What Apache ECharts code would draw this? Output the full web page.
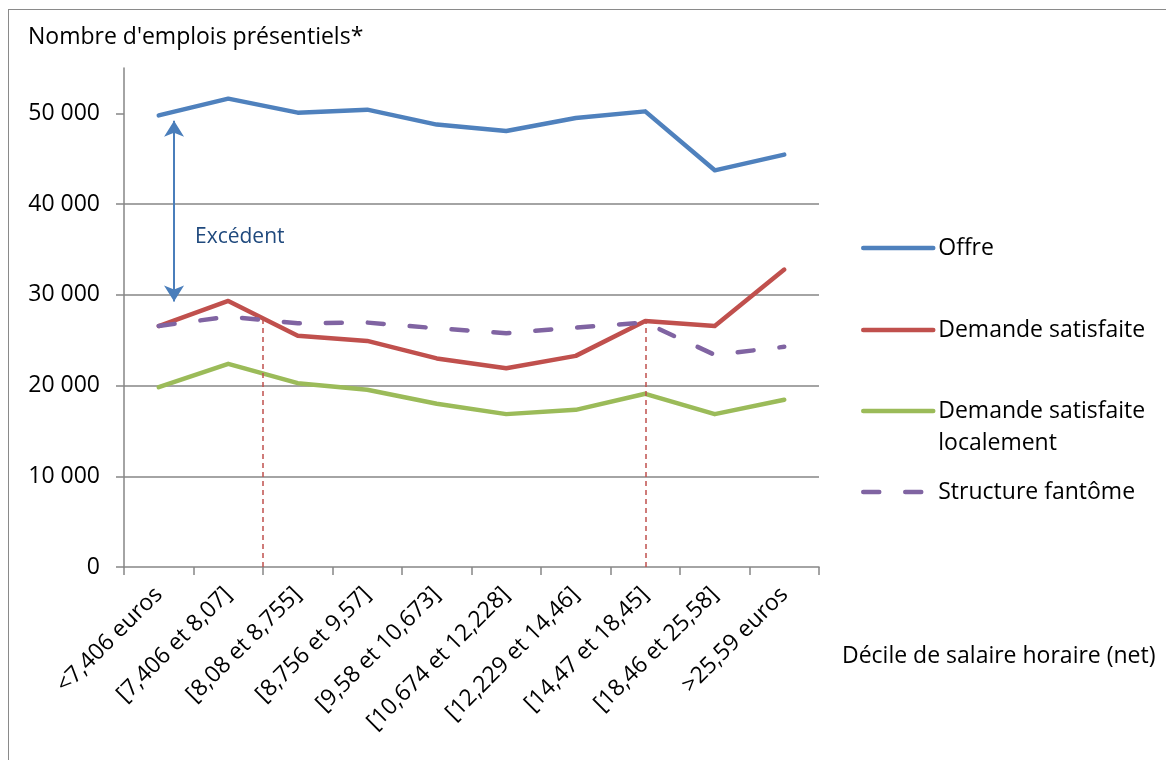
<!DOCTYPE html>
<html><head><meta charset="utf-8">
<script src="https://cdn.jsdelivr.net/npm/echarts@6/dist/echarts.min.js"></script>
<style>
html,body{margin:0;padding:0;background:#fff;}
body{width:1166px;height:760px;overflow:hidden;position:relative}
#frame{position:absolute;left:8px;top:9px;width:1200px;height:800px;border:1px solid #8a8a8a;box-sizing:border-box}
#chart{position:absolute;left:0;top:0;width:1166px;height:760px;}
</style></head><body>
<div id="frame"></div>
<div id="chart"></div>
<script>
const categories = ['<7,406 euros','[7,406 et 8,07]','[8,08 et 8,755]','[8,756 et 9,57]','[9,58 et 10,673]','[10,674 et 12,228]','[12,229 et 14,46]','[14,47 et 18,45]','[18,46 et 25,58]','>25,59 euros'];
const offre = [49780, 51620, 50080, 50410, 48760, 48050, 49480, 50220, 43720, 45450];
const demandeSatisfaite = [26560, 29330, 25500, 24920, 22990, 21910, 23270, 27120, 26570, 32780];
const demandeLocale = [19820, 22390, 20260, 19530, 17990, 16850, 17320, 19090, 16850, 18430];
const structureFantome = [26560, 27600, 26870, 26940, 26310, 25770, 26390, 26940, 23380, 24270];
const yTicks = [0, 10000, 20000, 30000, 40000, 50000];
const yMax = 55000;
const excedentArrow = [0.22, 49190, 29250];
const guideLines = [[1.5, 27420], [7, 27120]];

const FONT = 'Open Sans';
const FS = 23;
const fmt = v => String(v).replace(/\B(?=(\d{3})+(?!\d))/g, ' ');
const baseLine = (color) => ({ color: color, width: 4.5, cap: 'round', join: 'round' });
const legendBase = { orient: 'vertical', left: 861, itemWidth: 70, itemHeight: 14, itemGap: 0, padding: 0,
  itemStyle: { opacity: 0 }, lineStyle: { width: 4.5, cap: 'round' },
  textStyle: { fontFamily: FONT, fontSize: FS, color: '#000', lineHeight: 28 } };

const chart = echarts.init(document.getElementById('chart'));
chart.setOption({
  animation: false,
  backgroundColor: 'transparent',
  title: [
    { text: "Nombre d'emplois présentiels*", left: 28, top: 23, padding: 0,
      textStyle: { fontFamily: FONT, fontSize: FS, fontWeight: 'normal', color: '#000', lineHeight: 28 } },
    { text: 'Décile de salaire horaire (net)', left: 842, top: 642, padding: 0,
      textStyle: { fontFamily: FONT, fontSize: FS, fontWeight: 'normal', color: '#000', lineHeight: 28 } }
  ],
  legend: [
    Object.assign({}, legendBase, { top: 234, data: ['Offre'] }),
    Object.assign({}, legendBase, { top: 316, data: ['Demande satisfaite'] }),
    Object.assign({}, legendBase, { top: 363, data: ['Demande satisfaite localement'],
      formatter: () => '\nDemande satisfaite\nlocalement',
      textStyle: { fontFamily: FONT, fontSize: FS, color: '#000', lineHeight: 32 } }),
    Object.assign({}, legendBase, { top: 478, data: ['Structure fantôme'] })
  ],
  graphic: [
    { type: 'text', left: 195, top: 227, style: { text: 'Excédent', font: '21px "' + FONT + '"', fill: '#1F497D' } }
  ],
  grid: { left: 124, right: 347, top: 68, bottom: 193, containLabel: false },
  xAxis: [
    { type: 'category', data: categories, boundaryGap: true,
      axisLine: { lineStyle: { color: '#868686', width: 1.5 } },
      axisTick: { show: true, length: 8, lineStyle: { color: '#868686', width: 1.5 } },
      axisLabel: { rotate: 45, interval: 0, margin: 24, fontFamily: FONT, fontSize: FS, color: '#000' } },
    { type: 'value', min: -0.5, max: 9.5, show: false }
  ],
  yAxis: [{
    type: 'value', min: 0, max: yMax, interval: 10000,
    axisLine: { show: true, onZero: false, lineStyle: { color: '#868686', width: 1.5 } },
    axisTick: { show: true, length: 8, customValues: yTicks, lineStyle: { color: '#868686', width: 1.5 } },
    axisLabel: { margin: 24, customValues: yTicks, formatter: fmt, fontFamily: FONT, fontSize: FS, color: '#000' },
    splitLine: { show: true, showMinLine: false, showMaxLine: false, lineStyle: { color: '#868686', width: 1.5 } }
  }],
  series: [
    { type: 'line', name: 'guides', xAxisIndex: 1, yAxisIndex: 0, data: [], z: 1, silent: true,
      markLine: { silent: true, symbol: ['none', 'none'], label: { show: false },
        lineStyle: { color: '#C0504D', width: 1.5, type: [5, 4] },
        data: guideLines.map(g => [{ coord: [g[0], 0] }, { coord: [g[0], g[1]] }]) } },
    { type: 'line', name: 'arrow', xAxisIndex: 1, yAxisIndex: 0, data: [], z: 5, silent: true,
      markLine: { silent: true, symbol: ['arrow', 'arrow'], symbolSize: [15, 16], label: { show: false },
        lineStyle: { color: '#4A7EBB', width: 2, type: 'solid' },
        data: [[{ coord: [excedentArrow[0], excedentArrow[1]] }, { coord: [excedentArrow[0], excedentArrow[2]] }]] } },
    { type: 'line', name: 'Offre', data: offre, symbol: 'none', lineStyle: baseLine('#4F81BD'), itemStyle: { color: '#4F81BD' }, z: 3 },
    { type: 'line', name: 'Demande satisfaite', data: demandeSatisfaite, symbol: 'none', lineStyle: baseLine('#C0504D'), itemStyle: { color: '#C0504D' }, z: 3 },
    { type: 'line', name: 'Demande satisfaite localement', data: demandeLocale, symbol: 'none', lineStyle: baseLine('#9BBB59'), itemStyle: { color: '#9BBB59' }, z: 3 },
    { type: 'line', name: 'Structure fantôme', data: structureFantome, symbol: 'none',
      lineStyle: Object.assign(baseLine('#8064A2'), { type: [16, 26], cap: 'round' }), itemStyle: { color: '#8064A2' }, z: 4 }
  ]
});
</script>
</body></html>
